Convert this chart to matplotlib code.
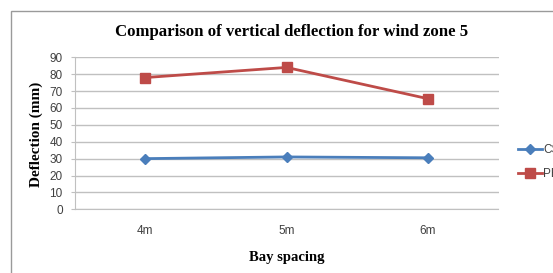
import matplotlib
matplotlib.use("Agg")
import matplotlib.pyplot as plt
from matplotlib.patches import Rectangle

categories = ["4m", "5m", "6m"]
cs_values = [30, 31, 30.5]
peb_values = [78, 84, 65.5]
series_names = ["CS", "PEB"]
yticks = [0, 10, 20, 30, 40, 50, 60, 70, 80, 90]

W, H = 553, 273
fig = plt.figure(figsize=(W / 100, H / 100), dpi=100)
fig.patch.set_facecolor("white")

# chart border
fig.add_artist(Rectangle((11 / W, -0.1), 1.2, (H - 10.5) / H + 0.1, transform=fig.transFigure,
                         fill=False, edgecolor="#9a9a9a", linewidth=1.0))

left, right = 74.5 / W, 498.5 / W
bottom, top = 1 - 209.3 / H, 1 - 57.3 / H
ax = fig.add_axes([left, bottom, right - left, top - bottom])

x = list(range(len(categories)))
ax.plot(x, cs_values, color="#4a7ebb", linewidth=2.0, marker="D", markersize=5,
        label=series_names[0], clip_on=False)
ax.plot(x, peb_values, color="#be4b48", linewidth=2.0, marker="s", markersize=7,
        label=series_names[1], clip_on=False)

ax.set_xlim(-0.5, len(categories) - 0.5)
ax.set_ylim(0, 90)
ax.set_yticks(yticks)
ax.set_xticks(x)
ax.set_xticklabels(categories)
ax.yaxis.grid(True, color="#c0c0c0", linewidth=1.0)
ax.set_axisbelow(True)
for s in ["top", "right"]:
    ax.spines[s].set_visible(False)
ax.spines["left"].set_color("#c0c0c0")
ax.spines["bottom"].set_color("#c0c0c0")
ax.tick_params(axis="y", length=3, color="#c0c0c0", labelsize=8.5, labelcolor="#404040", pad=5.5)
ax.tick_params(axis="x", length=0, labelsize=8.5, labelcolor="#404040", pad=11)
for lab in ax.get_xticklabels() + ax.get_yticklabels():
    lab.set_family("Liberation Sans")

fig.text(292 / W, 1 - 32 / H, "Comparison of vertical deflection for wind zone 5",
         ha="center", va="center", fontsize=12.1, fontweight="bold", family="Liberation Serif")
fig.text(287 / W, 1 - 257 / H, "Bay spacing", ha="center", va="center",
         fontsize=10.5, fontweight="bold", family="Liberation Serif")
fig.text(36 / W, 1 - 134 / H, "Deflection (mm)", ha="center", va="center", rotation=90,
         fontsize=11, fontweight="bold", family="Liberation Serif")

leg = fig.legend(loc="upper left", bbox_to_anchor=(518 / W, 1 - 144 / H), frameon=False,
                 borderpad=0, borderaxespad=0,
                 handlelength=2.0, handletextpad=0.15, labelspacing=1.0,
                 prop={"family": "Liberation Sans", "size": 8.5})
for t in leg.get_texts():
    t.set_color("#404040")

fig.savefig("out.png", dpi=100)
